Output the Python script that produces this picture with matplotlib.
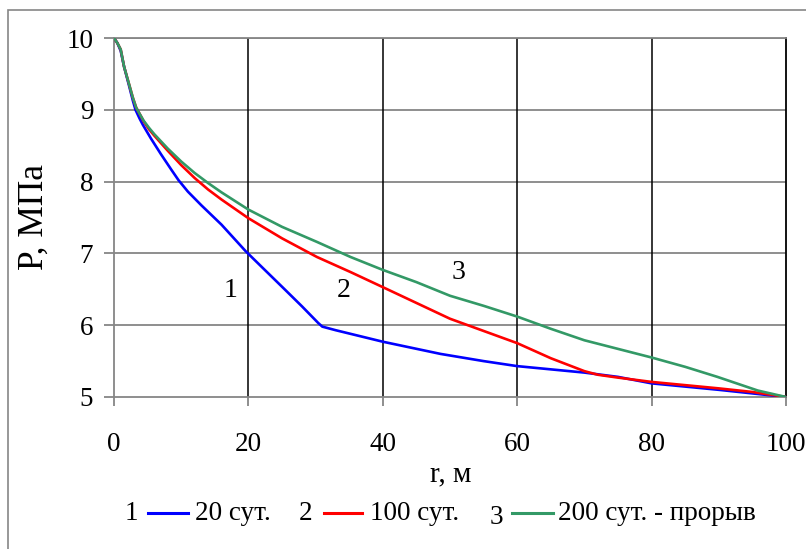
import numpy as np
import matplotlib.pyplot as plt
from matplotlib.lines import Line2D
from matplotlib.patches import Rectangle

# Pressure profiles P(r) for three times
r_20 = [0, 0.5, 1, 1.5, 2.2, 2.8, 3.2, 3.8, 4.3, 5.5, 7, 8.5, 9.6, 11, 13, 16,
        19.6, 22, 25.5, 28, 30.4, 31, 33, 40, 48.6, 55, 60, 70, 75, 80, 90, 100]
p_20 = [10, 9.93, 9.82, 9.6, 9.35, 9.13, 9.0, 8.88, 8.79, 8.6, 8.38, 8.17,
        8.02, 7.86, 7.67, 7.40, 7.03, 6.81, 6.49, 6.26, 6.03, 5.98, 5.93, 5.77,
        5.60, 5.50, 5.43, 5.34, 5.28, 5.19, 5.10, 5.0]

r_100 = [0, 0.5, 1, 1.5, 2.2, 2.8, 3.3, 3.9, 4.4, 5.2, 6, 8, 10, 12, 14, 16,
         18, 20, 25, 30.2, 35.2, 40, 45, 50, 55, 60, 65, 70, 72, 75, 80, 90,
         95, 100]
p_100 = [10, 9.93, 9.84, 9.6, 9.37, 9.17, 9.03, 8.93, 8.84, 8.73, 8.64, 8.43,
         8.23, 8.05, 7.89, 7.75, 7.62, 7.49, 7.21, 6.95, 6.74, 6.53, 6.31,
         6.09, 5.92, 5.75, 5.54, 5.36, 5.31, 5.27, 5.21, 5.12, 5.07, 5.0]

r_200 = [0, 0.5, 1, 1.5, 2.2, 2.8, 3.3, 3.9, 4.4, 5.2, 6, 8, 10, 12, 14, 16,
         18, 20, 25, 30.2, 35.2, 40, 45, 50, 55, 60, 65, 70, 75, 80, 85, 89.8,
         95.8, 100]
p_200 = [10, 9.93, 9.84, 9.6, 9.37, 9.17, 9.03, 8.93, 8.85, 8.75, 8.66, 8.46,
         8.28, 8.12, 7.98, 7.85, 7.73, 7.61, 7.37, 7.16, 6.95, 6.77, 6.6, 6.41,
         6.27, 6.12, 5.95, 5.79, 5.67, 5.55, 5.42, 5.28, 5.09, 5.0]

legend_nums = ["1", "2", "3"]
legend_labels = ["20 сут.", "100 сут.", "200 сут. - прорыв"]
colors = ["#0000FF", "#FF0000", "#339966"]

plt.rcParams['font.family'] = ['Liberation Serif', 'DejaVu Serif']
FS = 19.5

fig = plt.figure(figsize=(8.06, 5.49), dpi=100)
W, H = 806, 549

# outer chart frame
fig.patches.append(Rectangle((8 / W, -0.1), 1.1, 1 - 10 / H + 0.1,
                             transform=fig.transFigure, fill=False,
                             edgecolor="#868686", lw=1.2))

ax = fig.add_axes([114 / W, 1 - 397 / H, (786 - 114) / W, (397 - 38) / H])

for r, p, c in zip([r_20, r_100, r_200], [p_20, p_100, p_200], colors):
    ax.plot(r, p, color=c, lw=1.9, solid_joinstyle='round', zorder=3)

ax.set_xlim(0, 100)
ax.set_ylim(5, 10)
ax.set_xticks(np.arange(0, 101, 20))
ax.set_yticks(np.arange(5, 11, 1))

# grid: gray horizontal, black vertical
for y in range(6, 11):
    ax.axhline(y, color="#868686", lw=1.3, zorder=1)
for x in range(20, 100, 20):
    ax.axvline(x, color="black", lw=1.1, zorder=1)

for s in ["left", "bottom", "top"]:
    ax.spines[s].set_color("#868686")
    ax.spines[s].set_linewidth(1.3)
ax.spines["right"].set_color("black")
ax.spines["right"].set_linewidth(1.3)

ax.tick_params(axis='y', length=7, width=1.3, color="#868686", pad=8,
               labelsize=FS)
ax.tick_params(axis='x', length=6.5, width=1.3, color="#868686", pad=19,
               labelsize=FS)

ax.set_xlabel("r, м", fontsize=21)
ax.xaxis.set_label_coords(0.5015, -0.178)
ax.set_ylabel("P, МПа", fontsize=25.5)
ax.yaxis.set_label_coords(-0.094, 0.5)

# curve numbers
ax.text(17.3, 6.49, "1", fontsize=20, ha='center', va='center')
ax.text(34.2, 6.49, "2", fontsize=20, ha='center', va='center')
ax.text(51.2, 6.74, "3", fontsize=20, ha='center', va='center')

# legend row at the bottom
num_x = [131, 306, 496]
line_x = [(148, 188), (324, 362), (512, 553)]
lab_x = [195, 370, 558]
ly = 1 - 513 / H
for n, lab, c, nx, (x0, x1), tx in zip(legend_nums, legend_labels, colors,
                                       num_x, line_x, lab_x):
    ny = ly - (4 / H if n == "3" else 0)
    fig.text(nx / W, ny, n, fontsize=FS, ha='center', va='center')
    fig.lines.append(Line2D([x0 / W, x1 / W], [ly, ly], color=c, lw=2.2,
                            transform=fig.transFigure))
    fig.text(tx / W, ly, lab, fontsize=FS, ha='left', va='center')

fig.savefig("out.png", dpi=100)
